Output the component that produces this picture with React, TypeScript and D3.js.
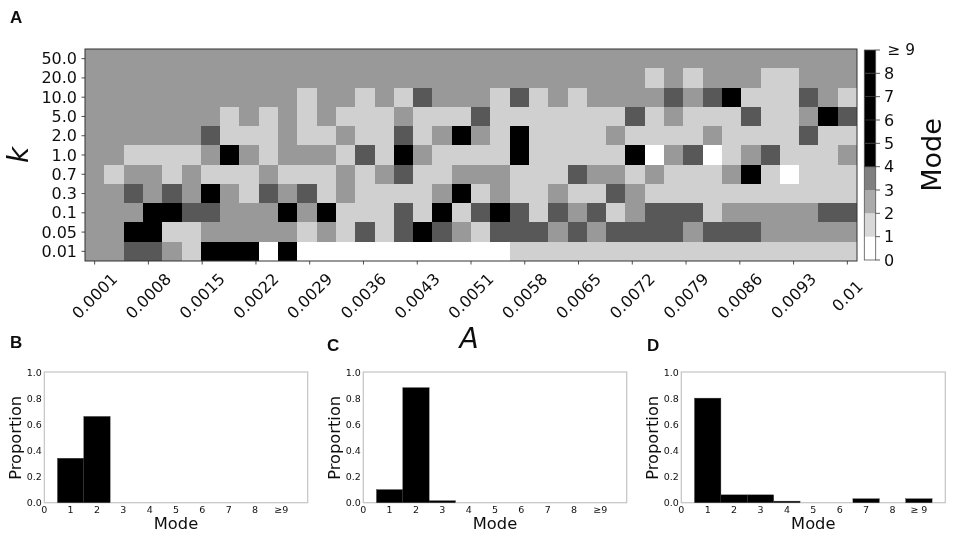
import React from "react";
import * as d3 from "d3";

const kLabels = ["50.0", "20.0", "10.0", "5.0", "2.0", "1.0", "0.7", "0.3", "0.1", "0.05", "0.01"];
const aLabels = ["0.0001", "0.0008", "0.0015", "0.0022", "0.0029", "0.0036", "0.0043", "0.0051", "0.0058", "0.0065", "0.0072", "0.0079", "0.0086", "0.0093", "0.01"];
const colCount = 40;

// Modal class per cell, one string per k row (digit = mode, 5 stands for any black cell)
const modeK50 = "2222222222222222222222222222222222222222";
const modeK20 = "2222222222222222222222222222212122211222";
const modeK10 = "2222222222212212132221312122223235111321";
const modeK5 = "2222222121212111211131111111312111311253";
const modeK2 = "2222223111211211312521511112111121111311";
const modeK1 = "2211112521222131521111511111502301231112";
const modeK07 = "2122121112111212311222111322121112510111";
const modeK03 = "2232325213231211112512112113211111111111";
const modeK01 = "2225533222525111315135313231233312222233";
const modeK005 = "2255112222212131353213332323333233322222";
const modeK001 = "2233215550500000000000111111111111111111";
const modeRows = [modeK50, modeK20, modeK10, modeK5, modeK2, modeK1, modeK07, modeK03, modeK01, modeK005, modeK001];

const cbTicks = ["0", "1", "2", "3", "4", "5", "6", "7", "8", "≥ 9"];
const cellGrays = ["#ffffff", "#d0d0d0", "#999999", "#595959", "#040404"];
const barGrays = ["#ffffff", "#d8d8d8", "#aaaaaa", "#808080", "#000000"];

const modeTicks = [0, 1, 2, 3, 4, 5, 6, 7, 8, 9];
const proportionTicks = [0, 0.2, 0.4, 0.6, 0.8, 1];
const modesB = [1, 2];
const valuesB = [0.34, 0.66];
const modesC = [1, 2, 3];
const valuesC = [0.1, 0.88, 0.015];
const modesD = [1, 2, 3, 4, 7, 9];
const valuesD = [0.8, 0.06, 0.06, 0.012, 0.03, 0.03];

const FONT = "'DejaVu Sans', sans-serif";

function Hist({ left, right, modes, values, last }: { left: number; right: number; modes: number[]; values: number[]; last: string }) {
  const top = 372;
  const bottom = 502.7;
  const x = d3.scaleLinear().domain([0, 10]).range([left, right]);
  const y = d3.scaleLinear().domain([0, 1]).range([bottom, top]);
  return (
    <g fontFamily={FONT} fill="#111">
      <rect x={left} y={top} width={right - left} height={bottom - top} fill="#fff" stroke="#c4c4c4" strokeWidth={1.2} />
      {modes.map((m, i) => (
        <rect key={m} x={x(m - 0.5)} y={y(values[i])} width={x(1) - x(0)} height={bottom - y(values[i])} fill="#000" stroke="#3a3a3a" strokeWidth={0.4} />
      ))}
      {modeTicks.map((t) => (
        <text key={t} x={x(t)} y={509} fontSize={9.5} textAnchor="middle" dominantBaseline="central">
          {t === 9 ? last : t}
        </text>
      ))}
      {proportionTicks.map((t) => (
        <text key={t} x={left - 2.5} y={y(t)} fontSize={9.5} textAnchor="end" dominantBaseline="central">
          {t.toFixed(1)}
        </text>
      ))}
      <text x={(left + right) / 2} y={529} fontSize={16.3} textAnchor="middle">Mode</text>
      <text transform={`translate(${left - 29},${(top + bottom) / 2 + 0.5}) rotate(-90)`} fontSize={16.3} textAnchor="middle" dominantBaseline="central">Proportion</text>
    </g>
  );
}

export default function App() {
  const left = 85;
  const right = 857;
  const top = 49;
  const bottom = 261;
  const xBand = d3.scaleBand<number>().domain(d3.range(colCount)).range([left, right]);
  const yBand = d3.scaleBand<string>().domain(kLabels).range([top, bottom]);
  const xTick = d3.scaleLinear().domain([0, aLabels.length - 1]).range([xBand(0)! + xBand.bandwidth() / 2, xBand(colCount - 1)! + xBand.bandwidth() / 2]);
  const color = d3.scaleThreshold<number, string>().domain([1, 2, 3, 4]).range(cellGrays);
  const barColor = d3.scaleThreshold<number, string>().domain([1, 2, 3, 4]).range(barGrays);
  const cb = d3.scaleLinear().domain([0, 9]).range([260, 50]);
  const cbL = 864.3;
  const cbR = 875.7;
  return (
    <svg width={956} height={537} viewBox="0 0 956 537" style={{ position: "absolute", left: 0, top: 0, background: "#fff" }}>
      <defs>
        <filter id="soft" x="0" y="0" width="100%" height="100%">
          <feGaussianBlur stdDeviation={0.35} />
        </filter>
      </defs>
      <rect width={956} height={537} fill="#fff" />
      <g filter="url(#soft)">
        <g shapeRendering="crispEdges">
          {modeRows.map((row, r) =>
            Array.from(row).map((c, i) => (
              <rect key={`${r}-${i}`} x={xBand(i)} y={yBand(kLabels[r])} width={xBand.bandwidth() + 0.3} height={yBand.bandwidth() + 0.3} fill={color(+c)} />
            ))
          )}
        </g>
        <rect x={left} y={top} width={right - left} height={bottom - top} fill="none" stroke="#333" strokeWidth={1} />
        <g fontFamily={FONT} fill="#111">
          {kLabels.map((k) => {
            const cy = yBand(k)! + yBand.bandwidth() / 2;
            return (
              <g key={k}>
                <line x1={81.5} x2={left} y1={cy} y2={cy} stroke="#222" strokeWidth={0.8} />
                <text x={77} y={cy} fontSize={16} textAnchor="end" dominantBaseline="central">{k}</text>
              </g>
            );
          })}
          {aLabels.map((a, i) => (
            <g key={a}>
              <line x1={xTick(i)} x2={xTick(i)} y1={bottom} y2={bottom + 3.5} stroke="#222" strokeWidth={0.8} />
              <text transform={`translate(${xTick(i)},296) rotate(-45)`} fontSize={16} textAnchor="middle" dominantBaseline="central">{a}</text>
            </g>
          ))}
          <text transform="translate(18,155) rotate(-90)" fontSize={28} fontStyle="italic" textAnchor="middle" dominantBaseline="central">k</text>
          <text x={469} y={348} fontSize={28} fontStyle="italic" textAnchor="middle">A</text>

          {d3.range(9).map((v) => (
            <rect key={v} x={cbL} y={cb(v + 1)} width={cbR - cbL} height={cb(v) - cb(v + 1)} fill={barColor(v)} />
          ))}
          <rect x={cbL} y={50} width={cbR - cbL} height={210} fill="none" stroke="#555" strokeWidth={0.8} />
          {cbTicks.map((t, i) => (
            <g key={t}>
              <line x1={i >= 4 && i < 9 ? cbL : cbR} x2={880} y1={cb(i)} y2={cb(i)} stroke="#333" strokeWidth={0.8} />
              <text x={i === 9 ? 887.5 : 884} y={cb(i)} fontSize={i === 9 ? 15.4 : 16} dominantBaseline="central">{t}</text>
            </g>
          ))}
          <text transform="translate(931,155) rotate(-90)" fontSize={27} textAnchor="middle" dominantBaseline="central">Mode</text>
        </g>

        <Hist left={44.3} right={307.7} modes={modesB} values={valuesB} last="≥9" />
        <Hist left={363.3} right={626.7} modes={modesC} values={valuesC} last="≥9" />
        <Hist left={681.3} right={945.3} modes={modesD} values={valuesD} last="≥ 9" />

        <g fontFamily="'Liberation Sans', sans-serif" fontWeight="bold" fontSize={17} fill="#111">
          <text x={10} y={23}>A</text>
          <text x={10} y={348}>B</text>
          <text x={327} y={351}>C</text>
          <text x={647} y={351}>D</text>
        </g>
      </g>
    </svg>
  );
}
